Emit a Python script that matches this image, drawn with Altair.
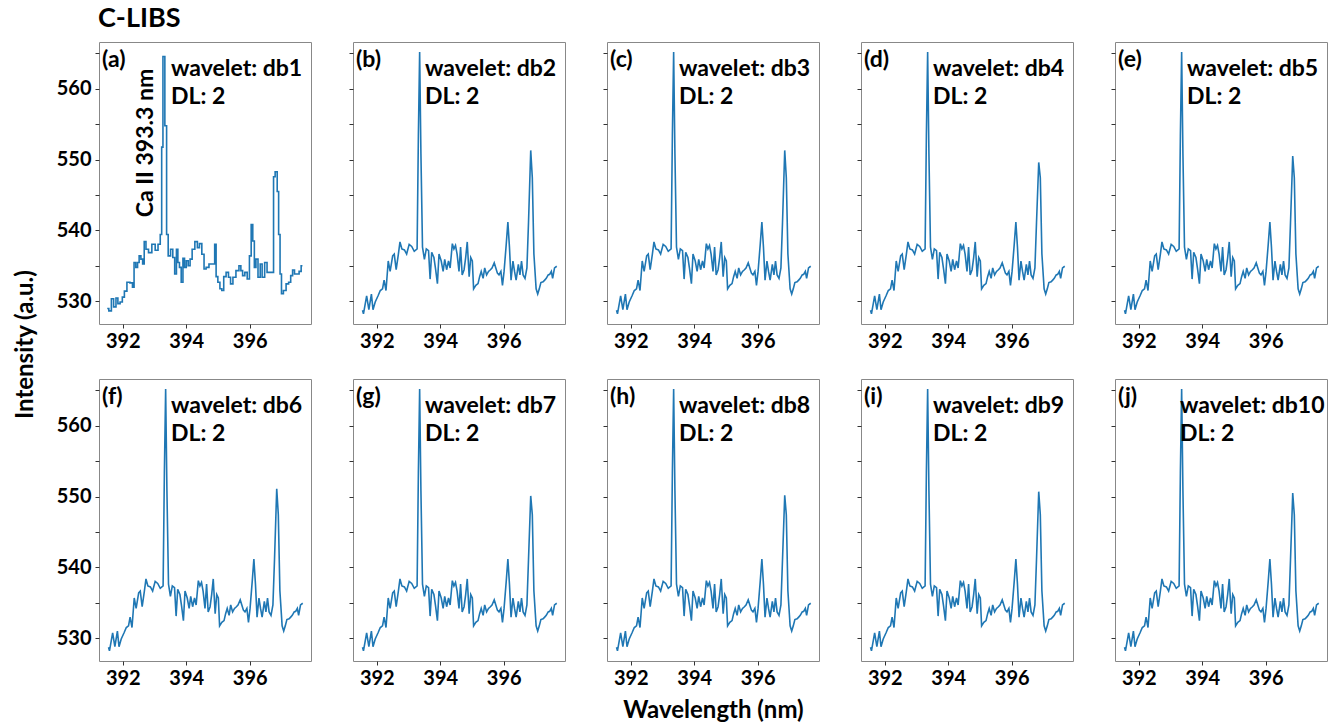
import altair as alt
import pandas as pd

# ---------------- data ----------------
panel_tags = ["(a)", "(b)", "(c)", "(d)", "(e)", "(f)", "(g)", "(h)", "(i)", "(j)"]
wavelets = ["db1", "db2", "db3", "db4", "db5", "db6", "db7", "db8", "db9", "db10"]
dl_levels = [2, 2, 2, 2, 2, 2, 2, 2, 2, 2]
x_ticks = [392, 394, 396]
y_ticks = [530, 535, 540, 545, 550, 555, 560, 565]

# db1 (Haar) reconstruction, step-like
db1_x = [391.51, 391.61, 391.67, 391.75, 391.82, 391.87, 391.96, 392.01, 392.09, 392.17,
         392.28, 392.33, 392.38, 392.44, 392.49, 392.54, 392.60, 392.65, 392.70, 392.76,
         392.86, 392.97, 393.07, 393.15, 393.21, 393.24, 393.29, 393.36, 393.40, 393.46,
         393.55, 393.60, 393.67, 393.71, 393.76, 393.81, 393.87, 393.92, 393.97, 394.03,
         394.09, 394.15, 394.22, 394.32, 394.38, 394.45, 394.53, 394.59, 394.66, 394.77,
         394.87, 394.92, 394.96, 395.03, 395.09, 395.15, 395.21, 395.30, 395.36, 395.43,
         395.51, 395.62, 395.70, 395.74, 395.81, 395.88, 395.96, 396.02, 396.07, 396.12,
         396.17, 396.22, 396.30, 396.36, 396.42, 396.52, 396.57, 396.68, 396.74, 396.76,
         396.84, 396.89, 396.93, 396.98, 397.02, 397.10, 397.19, 397.26, 397.32, 397.38,
         397.44, 397.53, 397.58, 397.66]
db1_y = [528.98, 528.65, 530.37, 529.21, 530.47, 529.67, 529.91, 530.60, 531.44, 532.70,
         532.60, 532.00, 535.49, 534.79, 535.49, 536.42, 535.95, 535.26, 538.42, 537.35,
         536.88, 538.05, 537.21, 538.05, 539.44, 551.77, 564.56, 554.79, 539.44, 536.42,
         537.35, 536.19, 533.86, 537.35, 535.49, 534.79, 532.70, 536.09, 534.79, 535.72,
         535.02, 535.95, 537.35, 538.42, 537.58, 538.14, 536.65, 534.56, 534.79, 535.26,
         535.26, 538.05, 533.49, 532.70, 531.77, 531.53, 533.49, 534.09, 533.40, 532.47,
         533.40, 534.33, 535.02, 534.33, 533.63, 534.09, 533.16, 536.42, 540.84, 538.51,
         534.79, 535.95, 533.40, 535.26, 533.40, 535.49, 534.09, 534.09, 534.09, 547.58,
         548.28, 545.49, 539.44, 533.86, 531.07, 531.53, 532.47, 532.70, 533.63, 534.42,
         533.86, 533.86, 534.23, 535.02]

# db2..db10 reconstructions (shared shape)
smooth_x = [391.55, 391.58, 391.68, 391.75, 391.83, 391.88, 391.95, 392.04, 392.11, 392.18,
            392.23, 392.29, 392.36, 392.42, 392.50, 392.55, 392.61, 392.68, 392.73, 392.79,
            392.87, 392.94, 393.02, 393.10, 393.18, 393.27, 393.31, 393.35, 393.39, 393.44,
            393.50, 393.56, 393.63, 393.68, 393.73, 393.80, 393.85, 393.91, 393.96, 394.03,
            394.09, 394.14, 394.20, 394.26, 394.31, 394.38, 394.43, 394.48, 394.53, 394.59,
            394.64, 394.69, 394.75, 394.80, 394.85, 394.91, 394.96, 395.01, 395.05, 395.12,
            395.19, 395.24, 395.29, 395.35, 395.40, 395.46, 395.52, 395.58, 395.63, 395.70,
            395.75, 395.80, 395.85, 395.91, 395.96, 396.01, 396.08, 396.13, 396.18, 396.23,
            396.29, 396.34, 396.39, 396.46, 396.51, 396.56, 396.61, 396.67, 396.73, 396.78,
            396.85, 396.90, 396.95, 397.02, 397.07, 397.12, 397.17, 397.24, 397.29, 397.34,
            397.40, 397.45, 397.50, 397.54, 397.60, 397.67]
smooth_y = [528.73, 528.24, 530.78, 528.82, 531.03, 528.82, 529.90, 530.78, 531.52, 531.76,
            532.99, 531.52, 535.69, 534.22, 536.42, 536.67, 534.46, 536.67, 538.38, 537.40,
            537.25, 536.67, 538.04, 537.75, 537.06, 537.40, 553.33, 565.20, 550.88, 537.65,
            535.93, 537.40, 537.16, 533.14, 536.91, 536.18, 534.61, 532.50, 536.67, 535.69,
            534.22, 535.93, 534.46, 535.69, 534.71, 538.14, 537.40, 537.89, 536.67, 534.22,
            537.65, 533.73, 534.46, 536.18, 538.38, 533.48, 536.18, 535.69, 531.76, 532.25,
            532.50, 533.48, 534.22, 533.24, 534.71, 533.73, 534.22, 534.46, 534.71, 535.44,
            534.71, 533.97, 533.73, 534.22, 532.25, 534.22, 538.14, 541.18, 537.65, 532.99,
            535.69, 534.22, 532.99, 535.20, 533.73, 535.69, 533.73, 533.24, 534.71, 541.08,
            550.54, 547.45, 536.67, 531.76, 531.03, 531.76, 532.65, 532.75, 532.99, 533.24,
            533.73, 533.82, 534.22, 533.24, 534.71, 534.95]
# height of the 396.8 nm line in panels (b)..(j)
peak_396_heights = [551.3, 551.3, 549.6, 550.5, 551.1, 550.1, 550.2, 550.7, 550.5]

# ---------------- styling ----------------
FONT = "Lato"
BLUE = "#1f77b4"
X_DOMAIN = [391.25, 397.93]
Y_DOMAIN = [526.8, 566.6]
W, H = 212, 282
ANN = 23

peak_index = smooth_y.index(550.54)


def series(i):
    if i == 0:
        return pd.DataFrame({"x": db1_x, "y": db1_y})
    ys = list(smooth_y)
    ys[peak_index] = peak_396_heights[i - 1]
    return pd.DataFrame({"x": smooth_x, "y": ys})


def panel(i):
    col = i % 5
    x_axis = alt.Axis(values=x_ticks, labelFont=FONT, labelFontSize=20, labelFontWeight="bold",
                      labelColor="black", tickColor="#333", tickSize=4, labelPadding=3,
                      domain=False, grid=False, labelFlush=False,
                      title="Wavelength (nm)" if i == 7 else None,
                      titleFont=FONT, titleFontSize=24, titleFontWeight="bold",
                      titleColor="black", titlePadding=10)
    if col == 0:
        y_axis = alt.Axis(values=y_ticks, labelExpr="datum.value % 10 === 0 ? datum.label : ''",
                          labelFont=FONT, labelFontSize=20, labelFontWeight="bold",
                          labelColor="black", tickColor="#333", tickSize=4, labelPadding=4,
                          domain=False, grid=False, labelFlush=False,
                          title="Intensity (a.u.)" if i == 0 else None,
                          titleFont=FONT, titleFontSize=24, titleFontWeight="bold",
                          titleColor="black", titleX=-74, titleY=302,
                          titleAlign="center", titleBaseline="middle", titleAngle=270)
    else:
        y_axis = alt.Axis(values=y_ticks, labels=False, tickColor="#333", tickSize=4,
                          domain=False, grid=False, title=None)

    line = alt.Chart(series(i)).mark_line(
        color=BLUE, strokeWidth=1.6, interpolate="step" if i == 0 else "linear", clip=True
    ).encode(
        x=alt.X("x:Q", scale=alt.Scale(domain=X_DOMAIN, nice=False, zero=False), axis=x_axis),
        y=alt.Y("y:Q", scale=alt.Scale(domain=Y_DOMAIN, nice=False, zero=False), axis=y_axis),
    )

    labels = pd.DataFrame({"tag": [panel_tags[i]],
                           "wav": ["wavelet: " + wavelets[i]],
                           "dl": ["DL: " + str(dl_levels[i])]})
    text_kw = dict(font=FONT, fontSize=ANN, fontWeight="bold", color="black",
                   align="left", baseline="alphabetic")
    x_off = 65 if i == 9 else 72
    tag = alt.Chart(labels).mark_text(**text_kw).encode(
        x=alt.value(3), y=alt.value(25), text="tag:N")
    wav = alt.Chart(labels).mark_text(**text_kw).encode(
        x=alt.value(x_off), y=alt.value(34), text="wav:N")
    dl = alt.Chart(labels).mark_text(**text_kw).encode(
        x=alt.value(x_off), y=alt.value(62), text="dl:N")
    layers = [line, tag, wav, dl]
    if i == 0:
        ca = alt.Chart(pd.DataFrame({"t": ["Ca II 393.3 nm"]})).mark_text(
            font=FONT, fontSize=ANN, fontWeight="bold", color="black",
            angle=270, align="center", baseline="middle"
        ).encode(x=alt.value(47), y=alt.value(101), text="t:N")
        layers.append(ca)
    props = dict(width=W, height=H)
    if i == 0:
        props["title"] = alt.TitleParams("C-LIBS", anchor="start", font=FONT, fontSize=27,
                                         fontWeight="bold", color="black", offset=9, dx=85)
    return alt.layer(*layers).properties(**props)


panels = [panel(i) for i in range(10)]
chart = alt.concat(*panels, columns=5, spacing={"row": 55, "column": 42}, bounds="flush").properties(
    padding={"left": 12, "top": 4, "right": 5, "bottom": 5}
).configure_view(stroke="#888888", strokeWidth=1)

chart.save("out.html", embed_options={"renderer": "svg", "actions": False})
